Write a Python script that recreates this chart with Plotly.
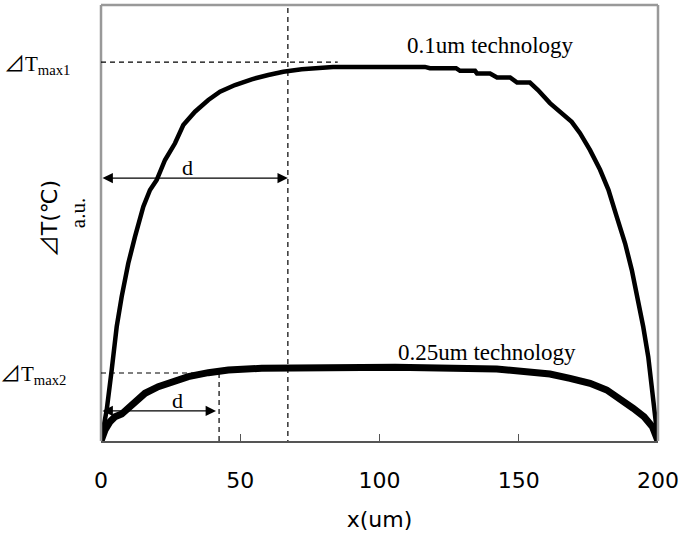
import plotly.graph_objects as go

# 0.1um technology curve (x in um, y in arbitrary units)
x_01 = [0, 2.05, 3.84, 5.64, 7.43, 9.80, 12.21, 15.19, 17.59, 20.0, 22.98, 26.57, 29.55,
        33.75, 38.53, 42.73, 48.11, 54.11, 60.07, 65.46, 72.06, 76.84, 83.3, 116.3, 118.1,
        127.5, 128.9, 134.3, 135.0, 139.7, 142.2, 146.9, 149.4, 154.0, 156.9, 161.2, 167.3,
        169.0, 172.0, 175.6, 179.2, 182.2, 185.2, 188.2, 190.6, 192.9, 194.7, 196.5, 197.7,
        198.9, 200]
y_01 = [0, 7.11, 16.28, 26.22, 33.10, 40.76, 46.86, 53.74, 57.57, 59.86, 64.45, 68.28, 72.48,
        75.53, 78.21, 80.11, 81.65, 82.96, 83.94, 84.70, 85.25, 85.48, 85.8, 85.8, 85.5,
        85.5, 84.9, 84.9, 84.3, 84.3, 83.4, 83.4, 82.2, 82.2, 80.5, 77.5, 74.0,
        73.2, 70.6, 66.7, 62.2, 57.6, 51.4, 45.3, 39.2, 32.3, 26.2, 19.3, 13.2,
        7.1, 0]

# 0.25um technology curve
x_025 = [0, 1.44, 3.23, 5.03, 7.43, 9.23, 12.21, 15.80, 20.57, 25.39, 31.35, 38.53, 45.71,
         57.70, 105.6, 142.1, 154.0, 161.2, 168.4, 175.6, 181.6, 186.4, 191.1, 195.0, 198.0, 200]
y_025 = [0, 2.52, 4.43, 5.57, 6.19, 7.11, 9.01, 10.94, 12.45, 13.60, 14.75, 15.67, 16.28,
         16.67, 16.9, 16.5, 15.67, 15.37, 14.38, 13.23, 11.70, 9.79, 7.50, 5.57, 3.28, 0]

x_ticks = [0, 50, 100, 150, 200]
x_tick_labels = ["0", "50", "100", "150", "200"]

t_max1 = 86.9
t_max2 = 15.6
d1_x = 67.1
d2_x = 42.4
d1_arrow_y = 60.3
d2_arrow_y = 6.9
d2_arrow_end = 41.3

SERIF = "Liberation Serif, Times New Roman, serif"
SANS = "DejaVu Sans, Noto Sans CJK JP, sans-serif"
TRI = "<span style='font-family:Noto Sans CJK JP'>⊿</span>"

fig = go.Figure()
fig.add_trace(go.Scatter(x=x_01, y=y_01, mode="lines",
                         line=dict(color="black", width=4.5), showlegend=False,
                         name="0.1um technology"))
fig.add_trace(go.Scatter(x=x_025, y=y_025, mode="lines",
                         line=dict(color="black", width=7), showlegend=False,
                         name="0.25um technology"))

dash = "5px,4px"
shapes = [
    # gray frame: left, top, right
    dict(type="line", xref="paper", yref="paper", x0=0, y0=0, x1=0, y1=1,
         line=dict(color="#999999", width=2.5)),
    dict(type="line", xref="paper", yref="paper", x0=0, y0=1, x1=1, y1=1,
         line=dict(color="#999999", width=2.5)),
    dict(type="line", xref="paper", yref="paper", x0=1, y0=1, x1=1, y1=0,
         line=dict(color="#999999", width=2.5)),
    # dashed reference lines
    dict(type="line", xref="x", yref="y", x0=0, y0=t_max1, x1=85, y1=t_max1,
         line=dict(color="black", width=1.2, dash=dash)),
    dict(type="line", xref="x", yref="y", x0=d1_x, y0=99.3, x1=d1_x, y1=-1.9,
         line=dict(color="black", width=1.2, dash=dash)),
    dict(type="line", xref="x", yref="y", x0=0, y0=t_max2, x1=d2_x, y1=t_max2,
         line=dict(color="black", width=1.2, dash=dash)),
    dict(type="line", xref="x", yref="y", x0=d2_x, y0=t_max2, x1=d2_x, y1=-1.9,
         line=dict(color="black", width=1.2, dash=dash)),
]

annotations = [
    # double arrows
    dict(x=d1_x, y=d1_arrow_y, ax=0, ay=d1_arrow_y, xref="x", yref="y", axref="x", ayref="y",
         text="", showarrow=True, arrowhead=2, startarrowhead=2, arrowside="end+start",
         arrowwidth=1.3, arrowsize=1.6, startarrowsize=1.6, arrowcolor="black"),
    dict(x=d2_arrow_end, y=d2_arrow_y, ax=0, ay=d2_arrow_y, xref="x", yref="y", axref="x", ayref="y",
         text="", showarrow=True, arrowhead=2, startarrowhead=2, arrowside="end+start",
         arrowwidth=1.3, arrowsize=1.6, startarrowsize=1.6, arrowcolor="black"),
    dict(x=30.9, y=d1_arrow_y, xref="x", yref="y", text="d", showarrow=False,
         yanchor="bottom", yshift=-4, font=dict(family=SERIF, size=22, color="black")),
    dict(x=27.3, y=d2_arrow_y, xref="x", yref="y", text="d", showarrow=False,
         yanchor="bottom", yshift=-4, font=dict(family=SERIF, size=22, color="black")),
    # curve labels
    dict(x=139.7, y=90.8, xref="x", yref="y", text="0.1um technology", showarrow=False,
         font=dict(family=SERIF, size=23, color="black")),
    dict(x=138.6, y=20.4, xref="x", yref="y", text="0.25um technology", showarrow=False,
         font=dict(family=SERIF, size=23, color="black")),
    # left labels
    dict(x=-0.052, y=t_max1, xref="paper", yref="y", xanchor="right", yanchor="middle",
         text=TRI + "T<sub>max1</sub>",
         showarrow=False, font=dict(family=SERIF, size=21, color="black")),
    dict(x=-0.059, y=t_max2, xref="paper", yref="y", xanchor="right", yanchor="middle",
         text=TRI + "T<sub>max2</sub>",
         showarrow=False, font=dict(family=SERIF, size=21, color="black")),
    dict(x=-0.0197, y=-1.4, xref="paper", yref="y", xanchor="right", yanchor="middle",
         text="Tref",
         showarrow=False, font=dict(family=SERIF, size=19, color="black")),
    # y-axis titles
    dict(x=-0.097, y=0.511, xref="paper", yref="paper", xanchor="center", yanchor="middle",
         text=TRI + "T(℃)", textangle=-90,
         showarrow=False, font=dict(family=SANS, size=22, color="black")),
    dict(x=-0.041, y=0.523, xref="paper", yref="paper", xanchor="center", yanchor="middle",
         text="a.u.", textangle=-90,
         showarrow=False, font=dict(family=SERIF, size=21, color="black")),
]

fig.update_layout(
    width=681, height=535,
    margin=dict(l=101, r=23, t=5, b=94, autoexpand=False),
    paper_bgcolor="white", plot_bgcolor="white",
    shapes=shapes, annotations=annotations,
    xaxis=dict(range=[0, 200], tickvals=x_ticks, ticktext=x_tick_labels,
               showline=True, linecolor="#555555", linewidth=1.5,
               ticks="inside", ticklen=7, tickwidth=1.2, tickcolor="#555555",
               showgrid=False, zeroline=False, ticklabelstandoff=19, automargin=False,
               tickfont=dict(family=SANS, size=22, color="black"),
               title=dict(text="x(um)", font=dict(family=SANS, size=22, color="black"), standoff=19)),
    yaxis=dict(range=[0, 100], showticklabels=False, showgrid=False, zeroline=False,
               showline=False, ticks="", automargin=False),
)

fig.write_html("out.html", config={"displayModeBar": False},
               post_script="document.body.style.margin='0';document.body.style.overflow='hidden';")
